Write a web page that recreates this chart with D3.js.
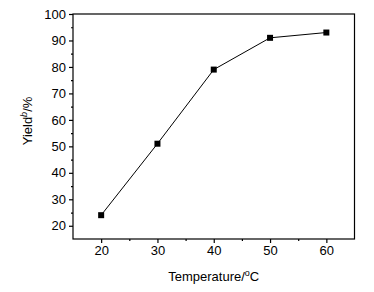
<!DOCTYPE html>
<html><head><meta charset="utf-8">
<script src="https://cdn.jsdelivr.net/npm/d3@7"></script>
<style>body{margin:0;background:#fff}svg{display:block}text{font-family:"Liberation Sans",Arial,sans-serif;fill:#000}</style>
</head><body>
<svg id="c" width="374" height="292"></svg>
<script>
const temps = [20, 30, 40, 50, 60];
const yields = [24, 51, 79, 91, 93];
const xTicks = [20, 30, 40, 50, 60];
const yTicks = [20, 30, 40, 50, 60, 70, 80, 90, 100];

const svg = d3.select("#c");
const L = 73, R = 354.5, T = 14, B = 239;
const x = d3.scaleLinear().domain([15, 65]).range([L, R]);
const y = d3.scaleLinear().domain([15, 100]).range([B, T]);

svg.append("rect").attr("x", L).attr("y", T).attr("width", R - L).attr("height", B - T)
  .attr("fill", "none").attr("stroke", "#000").attr("stroke-width", 1.2);

const xa = svg.append("g").attr("transform", `translate(0,${B})`)
  .call(d3.axisBottom(x).tickValues(xTicks).tickSize(4).tickPadding(3).tickFormat(d3.format("d")));
const xm = svg.append("g").attr("transform", `translate(0,${B})`)
  .call(d3.axisBottom(x).tickValues([25, 35, 45, 55]).tickSize(2).tickFormat(""));
const ya = svg.append("g").attr("transform", `translate(${L},0)`)
  .call(d3.axisLeft(y).tickValues(yTicks).tickSize(4).tickPadding(3).tickFormat(d3.format("d")));
const ym = svg.append("g").attr("transform", `translate(${L},0)`)
  .call(d3.axisLeft(y).tickValues([25, 35, 45, 55, 65, 75, 85, 95]).tickSize(2).tickFormat(""));
[xa, xm, ya, ym].forEach(g => {
  g.select(".domain").remove();
  g.selectAll("line").attr("stroke", "#000").attr("stroke-width", 1.2);
  g.selectAll("text").attr("font-size", 13).attr("font-family", "Liberation Sans, Arial, sans-serif").attr("fill", "#000");
});

const line = d3.line().x((d, i) => x(temps[i])).y(d => y(d));
svg.append("path").datum(yields).attr("d", line).attr("fill", "none").attr("stroke", "#000").attr("stroke-width", 1);
svg.selectAll("rect.pt").data(yields).enter().append("rect").attr("class", "pt")
  .attr("x", (d, i) => x(temps[i]) - 3).attr("y", d => y(d) - 3)
  .attr("width", 6).attr("height", 6).attr("fill", "#000");

const xl = svg.append("text").attr("x", (L + R) / 2).attr("y", 281).attr("text-anchor", "middle").attr("font-size", 13);
xl.append("tspan").text("Temperature/");
xl.append("tspan").text("o").attr("font-size", 9).attr("dy", -5);
xl.append("tspan").text("C").attr("dy", 5);

const yl = svg.append("text").attr("transform", `translate(32,121) rotate(-90)`).attr("text-anchor", "middle").attr("font-size", 13);
yl.append("tspan").text("Yield");
yl.append("tspan").text("b").attr("font-size", 9).attr("font-style", "italic").attr("dy", -5);
yl.append("tspan").text("/%").attr("dy", 5);
</script>
</body></html>
